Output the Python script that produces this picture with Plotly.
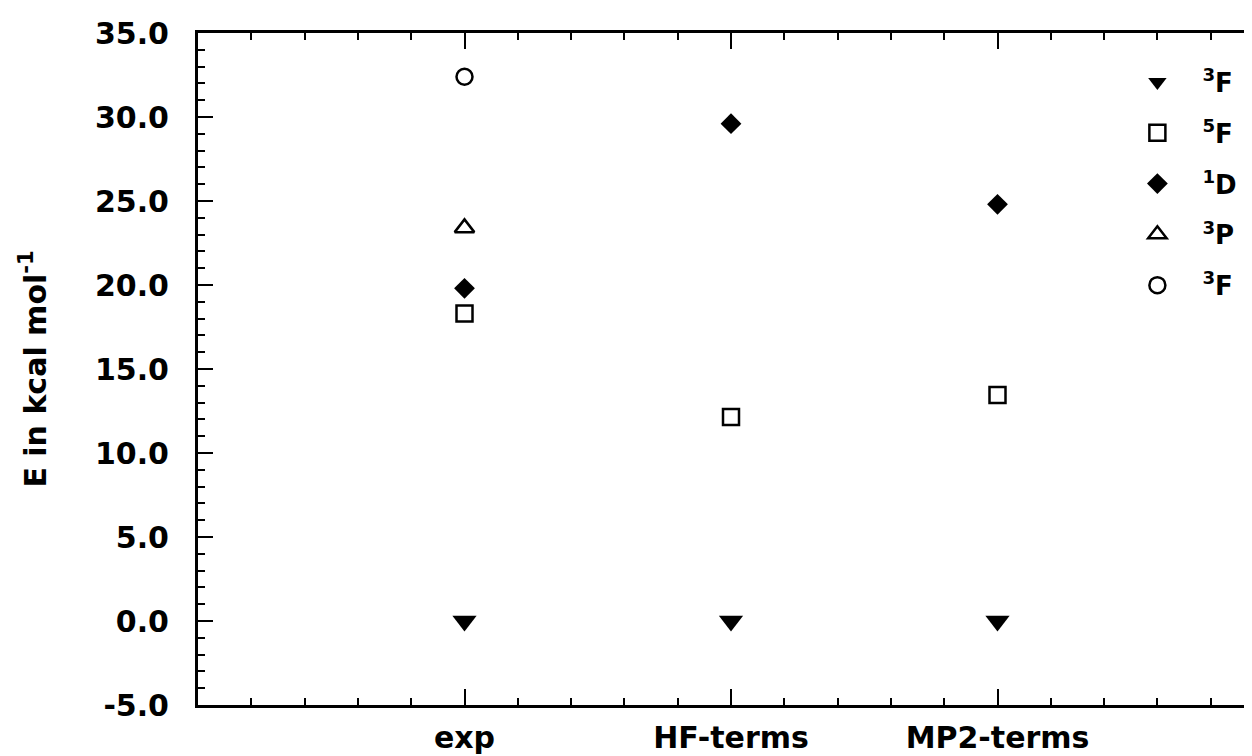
import plotly.graph_objects as go

# ---- data ----
categories = ["exp", "HF-terms", "MP2-terms"]
cat_pos = [1, 2, 3]

state_3F = [0.0, 0.0, 0.0]          # filled down triangle
state_5F = [18.3, 12.15, 13.45]     # open square
state_1D = [19.8, 29.6, 24.8]       # filled diamond
state_3P = [23.4]                   # open triangle (exp only)
state_3F_b = [32.4]                 # open circle (exp only)

y_ticks = [-5, 0, 5, 10, 15, 20, 25, 30, 35]
y_ticktext = ["-5.0", "0.0", "5.0", "10.0", "15.0", "20.0", "25.0", "30.0", "35.0"]

FONT = "DejaVu Sans"
BLK = "black"

fig = go.Figure()

fig.add_trace(go.Scatter(
    x=cat_pos, y=state_3F, mode="markers", name="<sup>3</sup>F",
    legendgroup="a",
    marker=dict(symbol="triangle-down", size=21, color=BLK, line=dict(width=0)),
))
fig.add_trace(go.Scatter(
    x=cat_pos, y=state_5F, mode="markers", name="<sup>5</sup>F",
    legendgroup="b",
    marker=dict(symbol="square-open", size=16, color=BLK, line=dict(width=2.5, color=BLK)),
))
fig.add_trace(go.Scatter(
    x=cat_pos, y=state_1D, mode="markers", name="<sup>1</sup>D",
    legendgroup="c",
    marker=dict(symbol="diamond", size=16, color=BLK, line=dict(width=0)),
))
fig.add_trace(go.Scatter(
    x=cat_pos[:1], y=state_3P, mode="markers", name="<sup>3</sup>P",
    legendgroup="d",
    marker=dict(symbol="triangle-up-open", size=17, color=BLK, line=dict(width=2.5, color=BLK)),
))
fig.add_trace(go.Scatter(
    x=cat_pos[:1], y=state_3F_b, mode="markers", name="<sup>3</sup>F",
    legendgroup="e",
    marker=dict(symbol="circle-open", size=16, color=BLK, line=dict(width=2.5, color=BLK)),
))

fig.update_layout(
    width=1252, height=756,
    margin=dict(l=190, r=0, t=25, b=59, autoexpand=False),
    paper_bgcolor="white", plot_bgcolor="white",
    font=dict(family=FONT, size=30, color=BLK, weight="bold"),
    showlegend=True,
    legend=dict(
        xref="paper", yref="paper",
        x=0.861, y=0.962, xanchor="left", yanchor="top",
        bgcolor="rgba(0,0,0,0)", borderwidth=0,
        font=dict(family=FONT, size=26, color=BLK, weight="bold"),
        itemwidth=80, tracegroupgap=14,
        traceorder="grouped",
    ),
    xaxis=dict(
        range=[0, 3.985],
        tickmode="array", tickvals=cat_pos, ticktext=categories,
        ticks="inside", ticklen=16, tickwidth=2, tickcolor=BLK,
        showline=True, linewidth=3, linecolor=BLK, mirror="ticks",
        showgrid=False, zeroline=False,
        ticklabelstandoff=4,
        tickfont=dict(family=FONT, size=30, color=BLK, weight="bold"),
        minor=dict(tickmode="linear", tick0=0, dtick=0.2, ticks="inside",
                   ticklen=7, tickwidth=2, tickcolor=BLK, showgrid=False),
    ),
    yaxis=dict(
        range=[-5, 35],
        tickmode="array", tickvals=y_ticks, ticktext=y_ticktext,
        ticks="inside", ticklen=15, tickwidth=2, tickcolor=BLK,
        showline=True, linewidth=3, linecolor=BLK, mirror="ticks",
        showgrid=False, zeroline=False,
        ticklabelstandoff=20,
        tickfont=dict(family=FONT, size=30, color=BLK, weight="bold"),
        minor=dict(tickmode="linear", tick0=0, dtick=1, ticks="inside",
                   ticklen=7, tickwidth=2, tickcolor=BLK, showgrid=False),
        title=dict(text="E in kcal mol<sup>-1</sup>", standoff=40,
                   font=dict(family=FONT, size=30, color=BLK, weight="bold")),
    ),
)

fig.write_html("out.html")
